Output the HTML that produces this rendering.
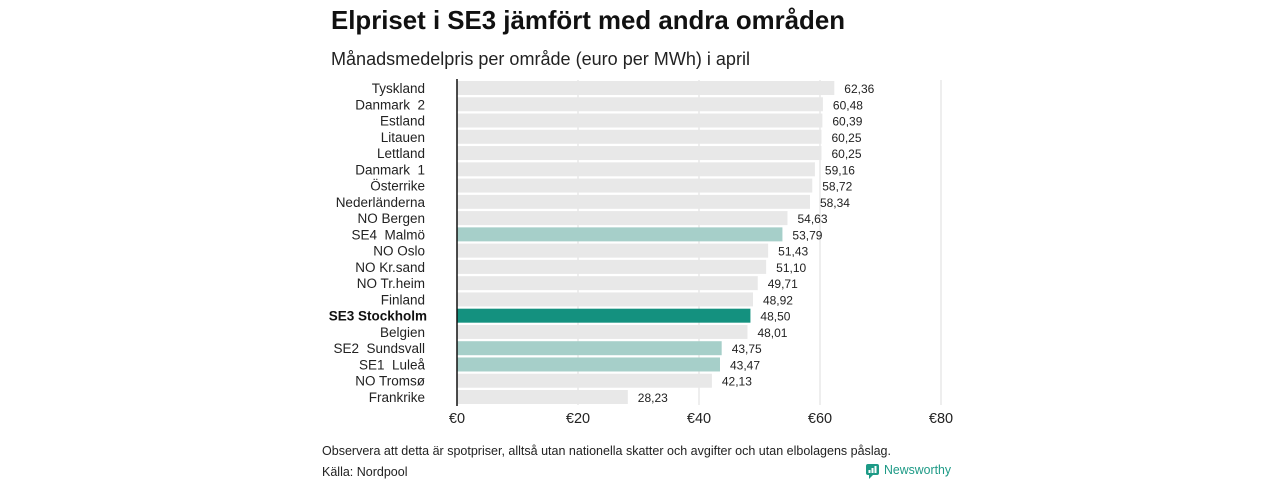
<!DOCTYPE html>
<html><head><meta charset="utf-8">
<style>
html,body{margin:0;padding:0;background:#fff;}
svg{display:block;font-family:"Liberation Sans","DejaVu Sans",sans-serif;}
</style></head>
<body>
<svg id="chart" width="1280" height="480" viewBox="0 0 1280 480">
<text x="331" y="29" font-size="26" font-weight="bold" fill="#111" textLength="514" lengthAdjust="spacingAndGlyphs">Elpriset i SE3 jämfört med andra områden</text>
<text x="331" y="65" font-size="18" fill="#222" textLength="419" lengthAdjust="spacingAndGlyphs">Månadsmedelpris per område (euro per MWh) i april</text>
<g id="grid"></g>
<g id="bars"></g>
<g id="xaxis"></g>
<text x="322" y="455" font-size="12.5" fill="#222" textLength="569" lengthAdjust="spacingAndGlyphs">Observera att detta är spotpriser, alltså utan nationella skatter och avgifter och utan elbolagens påslag.</text>
<text x="322" y="476" font-size="12.5" fill="#222">Källa: Nordpool</text>
<g>
<rect x="866" y="464" width="13" height="11" rx="2" fill="#1d9a86"/>
<path d="M869 475 L869 479 L873 475 Z" fill="#1d9a86"/>
<rect x="868.5" y="470" width="2" height="3" fill="#fff"/><rect x="871.5" y="468" width="2" height="5" fill="#fff"/><rect x="874.5" y="466" width="2" height="7" fill="#fff"/>
<text x="884" y="474" font-size="13" fill="#1d9a86" textLength="67" lengthAdjust="spacingAndGlyphs">Newsworthy</text>
</g>
</svg>
<script>
const categories=["Tyskland","Danmark  2","Estland","Litauen","Lettland","Danmark  1","Österrike","Nederländerna","NO Bergen","SE4  Malmö","NO Oslo","NO Kr.sand","NO Tr.heim","Finland","SE3 Stockholm","Belgien","SE2  Sundsvall","SE1  Luleå","NO Tromsø","Frankrike"];
const values=[62.36,60.48,60.39,60.25,60.25,59.16,58.72,58.34,54.63,53.79,51.43,51.10,49.71,48.92,48.50,48.01,43.75,43.47,42.13,28.23];
const highlight=["","","","","","","","","","light","","","","","strong","","light","light","",""];
const ticks=[0,20,40,60,80];
const tickLabels=["€0","€20","€40","€60","€80"];
const NS="http://www.w3.org/2000/svg";
const x0=457,pxPer=(941-457)/80,y0=88,step=(397-88)/19,bh=14;
const xs=v=>x0+v*pxPer, ys=i=>y0+i*step;
function mk(tag,attrs,parent){const e=document.createElementNS(NS,tag);for(const k in attrs)e.setAttribute(k,attrs[k]);parent.appendChild(e);return e;}
const grid=document.getElementById('grid'),bars=document.getElementById('bars'),xa=document.getElementById('xaxis');
ticks.forEach((t,i)=>{
 if(t>0){const l=mk('line',{x1:xs(t),x2:xs(t),y1:80,y2:405,stroke:'#dddddd','stroke-width':1},grid);
 
 }
 const tx=mk('text',{x:xs(t),y:423,'font-size':14.5,'text-anchor':'middle',fill:'#222'},xa);
 tx.textContent=tickLabels[i];
 
 
});
categories.forEach((c,i)=>{
 const y=ys(i);
 const col=highlight[i]==='strong'?'#14917f':highlight[i]==='light'?'#a6cfc9':'#e8e8e8';
 const r=mk('rect',{x:x0,y:y-bh/2,width:xs(values[i])-x0,height:bh,fill:col},bars);
 
 
 const lb=mk('text',{x:425,y:y+5,'font-size':13.5,'text-anchor':'end',fill:'#222'},bars);
 if(highlight[i]==='strong'){lb.setAttribute('font-weight','bold');lb.setAttribute('x',427);lb.setAttribute('fill','#111');}
 lb.setAttribute('xml:space','preserve');lb.style.whiteSpace='pre';
 lb.textContent=c;
 
 
 const vl=mk('text',{x:xs(values[i])+10,y:y+5,'font-size':12,fill:'#222'},bars);
 vl.textContent=values[i].toFixed(2).replace('.',',');
 
 
});
const ax=mk('line',{x1:x0,x2:x0,y1:79,y2:406,stroke:'#111','stroke-width':1.5},bars);


</script>
</body></html>
